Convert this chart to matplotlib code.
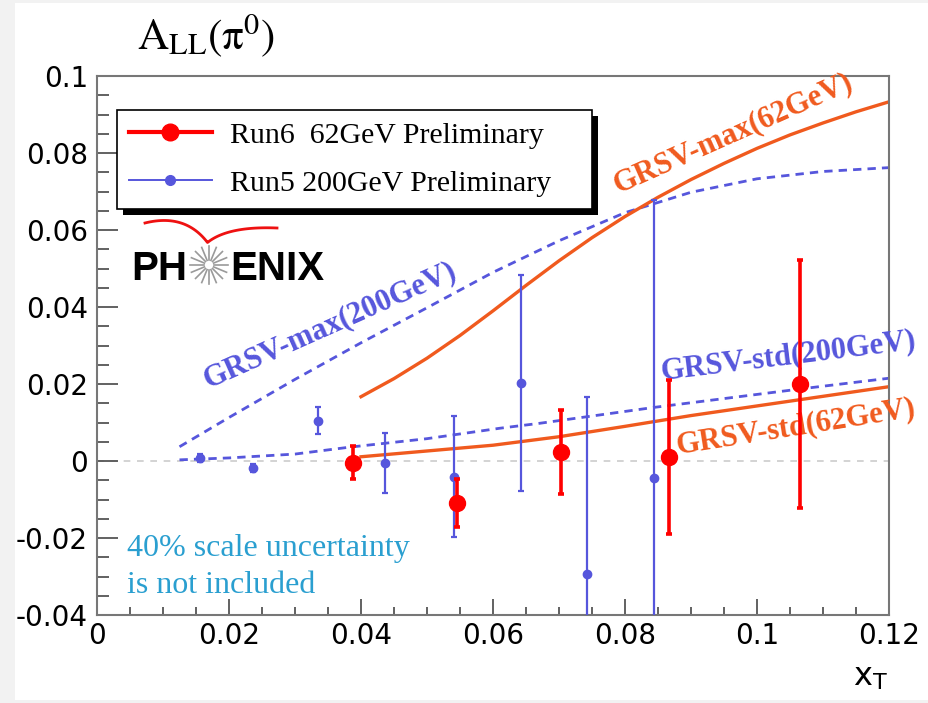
import numpy as np
import matplotlib
matplotlib.use('Agg')
import matplotlib.pyplot as plt
from matplotlib.lines import Line2D
from matplotlib.patches import Rectangle

plt.rcParams['mathtext.fontset'] = 'stix'

# Run6 62 GeV (red) and Run5 200 GeV (blue) data points
run6_x = [0.0388, 0.0545, 0.0703, 0.0866, 0.1065]
run6_y = [-0.0004, -0.0110, 0.0023, 0.0010, 0.0199]
run6_err = [0.0044, 0.0062, 0.0109, 0.0200, 0.0322]

run5_x = [0.0156, 0.0237, 0.0335, 0.0436, 0.0541, 0.0642, 0.0743, 0.0844]
run5_y = [0.0007, -0.0019, 0.0105, -0.0006, -0.0041, 0.0203, -0.0294, -0.0043]
run5_err = [0.0010, 0.0010, 0.0036, 0.0078, 0.0157, 0.0280, 0.0460, 0.0720]

# theory curves
max62_x = [0.04, 0.045, 0.05, 0.055, 0.06, 0.065, 0.07, 0.075, 0.08, 0.085,
           0.09, 0.095, 0.1, 0.105, 0.11, 0.115, 0.12]
max62_y = [0.0167, 0.0214, 0.0267, 0.0326, 0.039, 0.0456, 0.052, 0.058, 0.0635,
           0.0685, 0.0731, 0.0773, 0.0812, 0.0847, 0.0878, 0.0907, 0.0933]
std62_x = [0.04, 0.05, 0.06, 0.07, 0.08, 0.09, 0.1, 0.11, 0.12]
std62_y = [0.0011, 0.0026, 0.0041, 0.0063, 0.009, 0.0118, 0.0143, 0.0168, 0.0193]
max200_x = [0.0125, 0.02, 0.03, 0.04, 0.05, 0.06, 0.07, 0.08, 0.09, 0.1, 0.11, 0.12]
max200_y = [0.0037, 0.0113, 0.0212, 0.0307, 0.0398, 0.049, 0.0572, 0.0645,
            0.0698, 0.0733, 0.0752, 0.0762]
std200_x = [0.0125, 0.02, 0.03, 0.0383, 0.05, 0.061, 0.0671, 0.0843, 0.1065, 0.12]
std200_y = [0.0003, 0.0008, 0.0018, 0.0036, 0.0058, 0.0085, 0.0098, 0.0139, 0.0187, 0.0215]

xticks = [0, 0.02, 0.04, 0.06, 0.08, 0.1, 0.12]
xticklabels = ['0', '0.02', '0.04', '0.06', '0.08', '0.1', '0.12']
yticks = [-0.04, -0.02, 0, 0.02, 0.04, 0.06, 0.08, 0.1]
yticklabels = ['-0.04', '-0.02', '0', '0.02', '0.04', '0.06', '0.08', '0.1']

W, H = 929, 703
RED = '#ff0000'
BLUE = '#5656dc'
ORANGE = '#f05a1e'
SERIF = 'Liberation Serif'


def fp(x, y):
    """pixel (from top-left) -> figure fraction"""
    return x / W, 1 - y / H


fig = plt.figure(figsize=(W / 100, H / 100), dpi=100, facecolor='#f2f2f2')
fig.add_artist(Rectangle(fp(15, 700), (W - 15) / W, 697 / H, transform=fig.transFigure,
                         facecolor='white', edgecolor='none', zorder=-10))

l, b = fp(97, 615)
r, t = fp(889, 76)
ax = fig.add_axes([l, b, r - l, t - b])
ax.set_facecolor('white')
ax.set_xlim(0, 0.12)
ax.set_ylim(-0.04, 0.1)

ax.axhline(0, color='#cccccc', ls=(0, (4, 4)), lw=1.2, zorder=0)

ax.plot(max200_x, max200_y, color=BLUE, lw=2, ls=(0, (3, 2.2)), zorder=2)
ax.plot(std200_x, std200_y, color=BLUE, lw=2, ls=(0, (3, 2.2)), zorder=2)
ax.plot(max62_x, max62_y, color=ORANGE, lw=2.4, zorder=2)
ax.plot(std62_x, std62_y, color=ORANGE, lw=2.4, zorder=2)

ax.errorbar(run5_x, run5_y, yerr=run5_err, fmt='o', color=BLUE, ms=6, lw=1.6,
            capsize=2.5, capthick=1.6, zorder=3)
ax.errorbar(run6_x, run6_y, yerr=run6_err, fmt='o', color=RED, ms=11.5, lw=2.6,
            capsize=2.5, capthick=2.6, zorder=4)

# curve labels
lab = dict(fontsize=22, fontweight='bold', family=SERIF, ha='center', va='center',
           rotation_mode='anchor')
ax.text(0.0963, 0.0852, 'GRSV-max(62GeV)', color=ORANGE, rotation=24, **lab)
ax.text(0.0353, 0.0353, 'GRSV-max(200GeV)', color=BLUE, rotation=24, **lab)
ax.text(0.1047, 0.0272, 'GRSV-std(200GeV)', color=BLUE, rotation=7, clip_on=False, **lab)
ax.text(0.1058, 0.0088, 'GRSV-std(62GeV)', color=ORANGE, rotation=9, clip_on=False, **lab)

ax.text(0.0045, -0.0247, '40% scale uncertainty', color='#2a9fd0', fontsize=23,
        family=SERIF, va='baseline')
ax.text(0.0045, -0.0343, 'is not included', color='#2a9fd0', fontsize=23,
        family=SERIF, va='baseline')

# axes style
ax.set_xticks(xticks)
ax.set_xticklabels(xticklabels)
ax.set_yticks(yticks)
ax.set_yticklabels(yticklabels)
ax.set_xticks(np.arange(0, 0.1201, 0.005), minor=True)
ax.set_yticks(np.arange(-0.04, 0.1001, 0.005), minor=True)
ax.tick_params(axis='both', which='both', direction='in', colors='#555555',
               labelcolor='black', labelsize=20, top=False, right=False, width=1.3)
ax.tick_params(axis='y', which='major', length=15, pad=6.5)
ax.tick_params(axis='y', which='minor', length=8.6)
ax.tick_params(axis='x', which='major', length=11.5, pad=5)
ax.tick_params(axis='x', which='minor', length=5.8)
for s in ax.spines.values():
    s.set_color('#777777')
    s.set_linewidth(1.5)

# title and axis label
fig.text(*fp(137, 49), r'$\mathrm{A}_{\mathrm{LL}}(\mathrm{\pi}^{0})$', fontsize=31,
         va='baseline')
fig.text(*fp(888, 686), r'x$_{\mathregular{T}}$', fontsize=23, ha='right', va='baseline',
         family='DejaVu Sans')

# legend with black drop shadow
handles = [Line2D([], [], color=RED, lw=3, marker='o', ms=12),
           Line2D([], [], color=BLUE, lw=1.4, marker='o', ms=7)]
lx, ly = fp(116.7, 210)
leg = fig.legend(handles, ['Run6  62GeV Preliminary', 'Run5 200GeV Preliminary'],
                 loc='upper left', bbox_to_anchor=(lx, ly, 475 / W, 100 / H), mode='expand',
                 borderaxespad=0, prop={'family': SERIF, 'size': 21.5}, frameon=True,
                 fancybox=False, edgecolor='black', framealpha=1, handlelength=2.8,
                 handletextpad=0.6, labelspacing=0.7, borderpad=0.4, numpoints=1)
leg.get_frame().set_linewidth(1.2)
leg.set_zorder(6)
fig.canvas.draw()
bb = leg.get_window_extent().transformed(fig.transFigure.inverted())
fig.add_artist(Rectangle((bb.x0 + 6 / W, bb.y0 - 6 / H), bb.width, bb.height,
                         transform=fig.transFigure, facecolor='black', edgecolor='none',
                         zorder=5))

# PHENIX logo
fig.text(*fp(131, 280), 'PH', fontsize=29, fontweight='bold', family='Liberation Sans',
         va='baseline', zorder=7)
fig.text(*fp(230, 280), 'ENIX', fontsize=29, fontweight='bold', family='Liberation Sans',
         va='baseline', zorder=7)
cx, cy = 209, 265
for a in np.linspace(0, 2 * np.pi, 16, endpoint=False):
    x0, y0 = fp(cx + 5 * np.cos(a), cy + 5 * np.sin(a))
    x1, y1 = fp(cx + 19 * np.cos(a), cy + 19 * np.sin(a))
    fig.add_artist(Line2D([x0, x1], [y0, y1], transform=fig.transFigure,
                          color='#9a9a9a', lw=1.2, zorder=7))


def bez(p0, p1, p2, n=30):
    s = np.linspace(0, 1, n)[:, None]
    return (1 - s) ** 2 * np.array(p0) + 2 * (1 - s) * s * np.array(p1) + s ** 2 * np.array(p2)


sw = np.vstack([bez((145, 223), (185, 213), (207.5, 242.5)),
                bez((207.5, 242.5), (228, 226), (277, 228))])
sx, sy = zip(*[fp(px, py) for px, py in sw])
fig.add_artist(Line2D(sx, sy, transform=fig.transFigure, color='#ee1111', lw=2, zorder=7))

fig.savefig('out.png', dpi=100, facecolor=fig.get_facecolor())
